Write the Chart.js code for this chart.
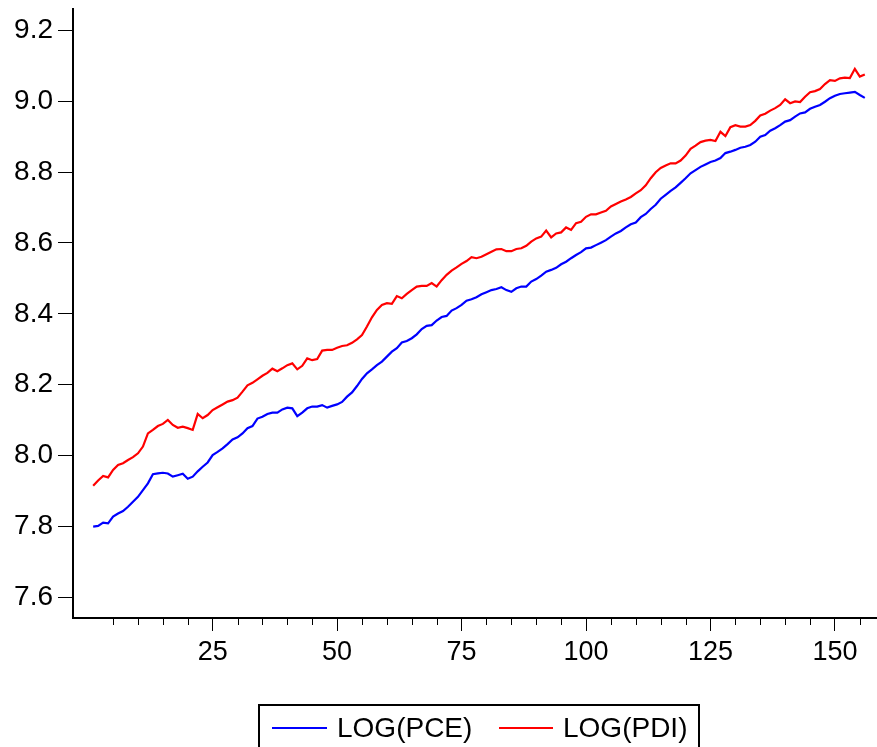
<!DOCTYPE html>
<html>
<head>
<meta charset="utf-8">
<script src="https://cdn.jsdelivr.net/npm/chart.js@4/dist/chart.umd.min.js"></script>
<style>
html,body{margin:0;padding:0;background:#fff;}
canvas{display:block;}
</style>
</head>
<body>
<canvas id="c" width="877" height="747"></canvas>
<script>
const periods = [1,2,3,4,5,6,7,8,9,10,11,12,13,14,15,16,17,18,19,20,21,22,23,24,25,26,27,28,29,30,31,32,33,34,35,36,37,38,39,40,41,42,43,44,45,46,47,48,49,50,51,52,53,54,55,56,57,58,59,60,61,62,63,64,65,66,67,68,69,70,71,72,73,74,75,76,77,78,79,80,81,82,83,84,85,86,87,88,89,90,91,92,93,94,95,96,97,98,99,100,101,102,103,104,105,106,107,108,109,110,111,112,113,114,115,116,117,118,119,120,121,122,123,124,125,126,127,128,129,130,131,132,133,134,135,136,137,138,139,140,141,142,143,144,145,146,147,148,149,150,151,152,153,154,155,156];

const logPCE = [7.799,7.801,7.810,7.808,7.827,7.836,7.843,7.855,7.869,7.883,
7.902,7.921,7.947,7.949,7.951,7.949,7.940,7.944,7.948,7.934,
7.940,7.955,7.968,7.980,8.001,8.010,8.020,8.032,8.045,8.051,
8.062,8.077,8.083,8.104,8.109,8.117,8.121,8.121,8.130,8.135,
8.133,8.111,8.121,8.133,8.138,8.138,8.142,8.135,8.140,8.144,
8.151,8.166,8.178,8.196,8.216,8.232,8.243,8.255,8.265,8.279,
8.293,8.303,8.319,8.323,8.331,8.342,8.357,8.366,8.368,8.381,
8.391,8.394,8.409,8.416,8.425,8.437,8.441,8.447,8.455,8.461,
8.467,8.470,8.475,8.467,8.462,8.472,8.477,8.477,8.491,8.498,
8.508,8.519,8.524,8.530,8.540,8.547,8.557,8.566,8.574,8.585,
8.587,8.594,8.601,8.608,8.618,8.627,8.634,8.644,8.653,8.658,
8.673,8.682,8.696,8.708,8.725,8.736,8.747,8.757,8.770,8.783,
8.797,8.806,8.815,8.822,8.829,8.833,8.840,8.854,8.858,8.863,
8.869,8.872,8.877,8.886,8.900,8.905,8.917,8.924,8.933,8.943,
8.947,8.957,8.966,8.969,8.979,8.985,8.990,8.999,9.009,9.016,
9.021,9.023,9.025,9.027,9.018,9.010];

const logPDI = [7.914,7.929,7.942,7.938,7.959,7.973,7.978,7.987,7.995,8.006,
8.025,8.062,8.072,8.083,8.089,8.100,8.086,8.078,8.081,8.077,
8.072,8.117,8.105,8.114,8.128,8.136,8.144,8.152,8.156,8.163,
8.180,8.198,8.205,8.215,8.225,8.233,8.245,8.238,8.246,8.255,
8.260,8.243,8.253,8.274,8.269,8.272,8.296,8.298,8.298,8.304,
8.309,8.311,8.318,8.328,8.340,8.364,8.390,8.411,8.425,8.430,
8.428,8.450,8.444,8.456,8.467,8.477,8.479,8.479,8.487,8.477,
8.495,8.510,8.522,8.531,8.541,8.549,8.560,8.557,8.561,8.568,
8.575,8.582,8.583,8.577,8.577,8.583,8.585,8.592,8.604,8.613,
8.618,8.635,8.616,8.627,8.630,8.644,8.637,8.656,8.660,8.674,
8.681,8.681,8.686,8.691,8.703,8.710,8.717,8.723,8.730,8.740,
8.749,8.763,8.783,8.800,8.812,8.819,8.825,8.825,8.833,8.847,
8.866,8.875,8.885,8.889,8.891,8.888,8.914,8.902,8.927,8.933,
8.929,8.929,8.933,8.945,8.960,8.965,8.974,8.981,8.990,9.006,
8.995,9.000,8.998,9.013,9.026,9.029,9.035,9.049,9.060,9.058,
9.065,9.067,9.066,9.092,9.070,9.076];

const seriesNames = ['LOG(PCE)', 'LOG(PDI)'];
const seriesColors = ['#0000FF', '#FF0000'];
const xMajorTicks = [25, 50, 75, 100, 125, 150];
const xMinorTicks = [5,10,15,20,30,35,40,45,55,60,65,70,80,85,90,95,105,110,115,120,130,135,140,145,155];
const yTicks = [7.6, 7.8, 8.0, 8.2, 8.4, 8.6, 8.8, 9.0, 9.2];

const FONT = "'Liberation Sans', Arial, sans-serif";

function zeroPad(scale){
  scale.paddingTop = 0; scale.paddingBottom = 0;
  scale.paddingLeft = 0; scale.paddingRight = 0;
}

const extras = {
  id: 'extras',
  afterDraw(chart){
    const ctx = chart.ctx;
    const xs = chart.scales.x;
    const bottom = chart.chartArea.bottom;
    ctx.save();
    ctx.strokeStyle = '#000';
    ctx.lineWidth = 1;
    xMinorTicks.forEach(v => {
      const px = Math.round(xs.getPixelForValue(v)) + 0.5;
      ctx.beginPath();
      ctx.moveTo(px, bottom);
      ctx.lineTo(px, bottom + 7);
      ctx.stroke();
    });
    const bx = 259, by = 705, bw = 440, bh = 60;
    ctx.lineWidth = 2;
    ctx.strokeStyle = '#000';
    ctx.strokeRect(bx, by, bw, bh);
    ctx.font = "28px " + FONT;
    ctx.textBaseline = 'alphabetic';
    ctx.textAlign = 'left';
    const items = [
      {x0: 272, x1: 327, tx: 337},
      {x0: 499, x1: 553, tx: 563}
    ];
    chart.data.datasets.forEach((ds, i) => {
      const it = items[i];
      ctx.strokeStyle = ds.borderColor;
      ctx.lineWidth = 2;
      ctx.beginPath();
      ctx.moveTo(it.x0, 728);
      ctx.lineTo(it.x1, 728);
      ctx.stroke();
      ctx.fillStyle = '#000';
      ctx.fillText(ds.label, it.tx, 737);
    });
    ctx.restore();
  }
};

new Chart(document.getElementById('c'), {
  type: 'line',
  data: {
    labels: periods,
    datasets: [
      {label: seriesNames[0], data: logPCE, borderColor: seriesColors[0], backgroundColor: seriesColors[0]},
      {label: seriesNames[1], data: logPDI, borderColor: seriesColors[1], backgroundColor: seriesColors[1]}
    ]
  },
  options: {
    responsive: false,
    animation: false,
    devicePixelRatio: 1,
    layout: {padding: {top: 9, right: 0, bottom: 0, left: 0}},
    elements: {
      point: {radius: 0, hoverRadius: 0},
      line: {borderWidth: 2.2, tension: 0}
    },
    plugins: {legend: {display: false}, tooltip: {enabled: false}},
    scales: {
      x: {
        type: 'linear',
        min: -3.05,
        max: 158.45,
        border: {color: '#000', width: 2},
        grid: {drawOnChartArea: false, drawTicks: true, tickLength: 13, color: '#000', tickWidth: 1},
        ticks: {font: {family: FONT, size: 27}, color: '#000', padding: 5, autoSkip: false, maxRotation: 0,
                callback: v => String(v)},
        afterBuildTicks: s => { s.ticks = xMajorTicks.map(v => ({value: v})); },
        afterFit: s => { s.height = 129; zeroPad(s); }
      },
      y: {
        min: 7.5407,
        max: 9.261,
        border: {color: '#000', width: 2},
        grid: {drawOnChartArea: false, drawTicks: true, tickLength: 15, color: '#000', tickWidth: 1},
        ticks: {font: {family: FONT, size: 28}, color: '#000', padding: 5,
                callback: v => Number(v).toFixed(1)},
        afterBuildTicks: s => { s.ticks = yTicks.map(v => ({value: v})); },
        afterFit: s => { s.width = 73; zeroPad(s); }
      }
    }
  },
  plugins: [extras]
});
</script>
</body>
</html>
